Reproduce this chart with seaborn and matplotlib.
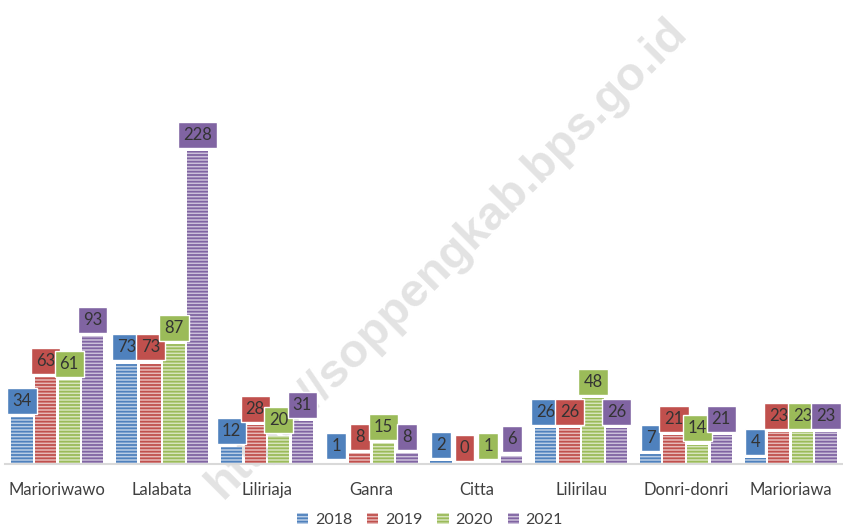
import pandas as pd
import matplotlib.pyplot as plt
import matplotlib.colors as mcolors
from matplotlib.patches import Patch
import seaborn as sns

# Data
kecamatan = ['Marioriwawo', 'Lalabata', 'Liliriaja', 'Ganra', 'Citta',
             'Lilirilau', 'Donri-donri', 'Marioriawa']
tahun = ['2018', '2019', '2020', '2021']
v2018 = [34, 73, 12, 1, 2, 26, 7, 4]
v2019 = [63, 73, 28, 8, 0, 26, 21, 23]
v2020 = [61, 87, 20, 15, 1, 48, 14, 23]
v2021 = [93, 228, 31, 8, 6, 26, 21, 23]
warna = ['#4F81BD', '#C0504D', '#9BBB59', '#8064A2']

data = pd.DataFrame({
    'Kecamatan': kecamatan * 4,
    'Tahun': [t for t in tahun for _ in kecamatan],
    'Jumlah': v2018 + v2019 + v2020 + v2021,
})

sns.set_style('white')
plt.rcParams['font.family'] = ['Lato', 'DejaVu Sans']
plt.rcParams['hatch.linewidth'] = 1.3

fig = plt.figure(figsize=(8.43, 5.32), dpi=100)
ax = fig.add_axes([0.006, 0.128, 0.994, 0.872])

sns.barplot(data=data, x='Kecamatan', y='Jumlah', hue='Tahun',
            palette=warna, width=0.9, gap=0.1, ax=ax, legend=False,
            zorder=2)


def tint(c, f=0.6):
    r, g, b = mcolors.to_rgb(c)
    return (r + (1 - r) * f, g + (1 - g) * f, b + (1 - b) * f)


nilai = [v2018, v2019, v2020, v2021]
for cont, col, vals in zip(ax.containers, warna, nilai):
    for bar, v in zip(cont, vals):
        bar.set_facecolor(tint(col))
        bar.set_edgecolor(col)
        bar.set_linewidth(0)
        bar.set_hatch('-----')
        x = bar.get_x() + bar.get_width() / 2
        ax.annotate(str(v), (x, v), xytext=(0, 6), textcoords='offset points',
                    ha='center', va='bottom', fontsize=12, color='#333333',
                    zorder=4,
                    bbox=dict(boxstyle='square,pad=0.3', fc=col, ec='white', lw=1))

ax.set_xlim(-0.5, 7.5)
ax.set_ylim(0, 338)
ax.set_xlabel('')
ax.set_ylabel('')
ax.set_yticks([])
ax.tick_params(axis='x', length=0, pad=13, labelsize=12, labelcolor='#404040')
for s in ['top', 'left', 'right']:
    ax.spines[s].set_visible(False)
ax.spines['bottom'].set_color('#d9d9d9')
ax.spines['bottom'].set_linewidth(1.5)
ax.spines['bottom'].set_zorder(3)

# watermark behind the bars
ax.text(0.531, 0.515, 'https://soppengkab.bps.go.id', transform=fig.transFigure,
        rotation=45, ha='center', va='center', fontsize=34, fontweight='bold',
        family='Liberation Sans', color='#e3e3e3', zorder=0.5)

handles = [Patch(facecolor=tint(c), edgecolor=c, linewidth=0, hatch='-----')
           for c in warna]
fig.legend(handles, tahun, loc='center', bbox_to_anchor=(0.51, 0.022), ncol=4,
           frameon=False, fontsize=11.5, labelcolor='#404040',
           handlelength=0.7, handleheight=0.7, handletextpad=0.4,
           columnspacing=0.95)

plt.savefig('out.png', dpi=100)
